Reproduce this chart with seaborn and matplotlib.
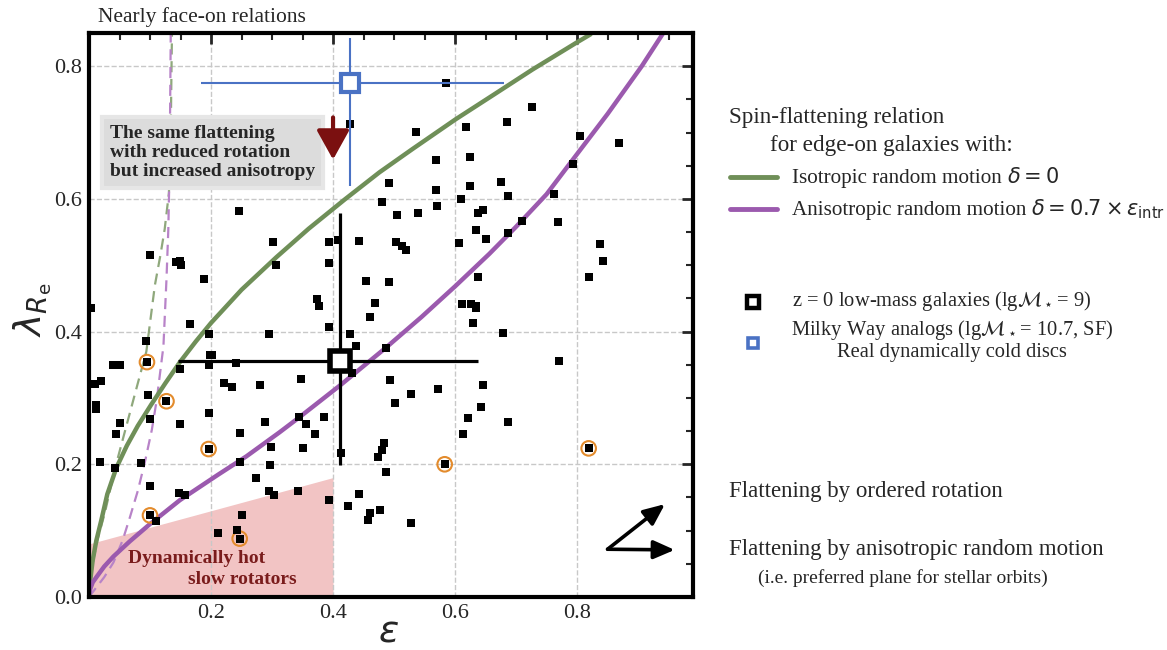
import matplotlib.pyplot as plt
import numpy as np
import pandas as pd
import seaborn as sns
from matplotlib.lines import Line2D

# z = 0 low-mass galaxies (ellipticity, lambda_Re)
eps = [0.585, 0.726, 0.685, 0.428, 0.618, 0.536, 0.805, 0.869, 0.569, 0.625,
       0.793, 0.491, 0.676, 0.624, 0.569, 0.762, 0.686, 0.609, 0.481, 0.570,
       0.246, 0.645, 0.637, 0.505, 0.539, 0.709, 0.768, 0.634, 0.686, 0.650,
       0.301, 0.394, 0.408, 0.442, 0.503, 0.513, 0.520, 0.607, 0.838, 0.100,
       0.842, 0.143, 0.149, 0.150, 0.307, 0.394, 0.189, 0.454, 0.491, 0.637,
       0.819, 0.373, 0.377, 0.468, 0.611, 0.626, 0.634, 0.635, 0.003, 0.461,
       0.630, 0.166, 0.393, 0.197, 0.295, 0.428, 0.679, 0.094, 0.438, 0.486,
       0.198, 0.201, 0.196, 0.241, 0.040, 0.051, 0.770, 0.149, 0.431, 0.222,
       0.234, 0.281, 0.347, 0.494, 0.010, 0.019, 0.528, 0.572, 0.097, 0.501,
       0.646, 0.642, 0.011, 0.012, 0.622, 0.686, 0.100, 0.197, 0.149, 0.288,
       0.344, 0.355, 0.386, 0.051, 0.613, 0.045, 0.247, 0.371, 0.299, 0.350,
       0.483, 0.481, 0.474, 0.413, 0.247, 0.296, 0.018, 0.043, 0.085, 0.487,
       0.274, 0.100, 0.147, 0.158, 0.295, 0.303, 0.343, 0.442, 0.394, 0.425,
       0.477, 0.461, 0.457, 0.251, 0.110, 0.528, 0.243, 0.212]
lam = [0.775, 0.739, 0.716, 0.713, 0.708, 0.701, 0.695, 0.684, 0.659, 0.663,
       0.652, 0.624, 0.626, 0.620, 0.614, 0.607, 0.604, 0.600, 0.595, 0.590,
       0.582, 0.583, 0.579, 0.575, 0.578, 0.566, 0.565, 0.553, 0.549, 0.540,
       0.535, 0.535, 0.538, 0.537, 0.535, 0.529, 0.523, 0.533, 0.532, 0.515,
       0.507, 0.505, 0.506, 0.501, 0.500, 0.504, 0.480, 0.476, 0.474, 0.482,
       0.483, 0.449, 0.438, 0.443, 0.441, 0.442, 0.439, 0.435, 0.435, 0.422,
       0.413, 0.411, 0.407, 0.396, 0.396, 0.397, 0.398, 0.386, 0.378, 0.376,
       0.364, 0.365, 0.350, 0.353, 0.350, 0.350, 0.356, 0.343, 0.338, 0.323,
       0.316, 0.320, 0.328, 0.327, 0.321, 0.326, 0.306, 0.313, 0.304, 0.293,
       0.319, 0.287, 0.290, 0.283, 0.270, 0.264, 0.269, 0.277, 0.260, 0.264,
       0.272, 0.261, 0.272, 0.262, 0.246, 0.245, 0.247, 0.245, 0.226, 0.225,
       0.232, 0.221, 0.211, 0.217, 0.204, 0.199, 0.204, 0.194, 0.202, 0.188,
       0.180, 0.168, 0.157, 0.153, 0.160, 0.154, 0.160, 0.155, 0.146, 0.137,
       0.131, 0.127, 0.116, 0.123, 0.115, 0.111, 0.101, 0.096]

# highlighted galaxies (orange rings)
hl_eps = [0.095, 0.127, 0.196, 0.100, 0.247, 0.583, 0.819]
hl_lam = [0.354, 0.295, 0.223, 0.123, 0.088, 0.200, 0.224]

# sample mean with spread
mean_eps, mean_lam = 0.412, 0.355
mean_eps_err = [0.266, 0.225]
mean_lam_err = [0.156, 0.224]

# Milky Way analogs
mw_eps, mw_lam = 0.427, 0.775
mw_eps_err = [0.244, 0.253]
mw_lam_err = [0.156, 0.068]

# edge-on spin-flattening relations
iso_eps = [0.000, 0.002, 0.006, 0.012, 0.020, 0.030, 0.045, 0.062, 0.080, 0.102,
           0.125, 0.149, 0.175, 0.200, 0.250, 0.307, 0.360, 0.419, 0.476, 0.530,
           0.601, 0.665, 0.727, 0.800, 0.822]
iso_lam = [0.000, 0.025, 0.055, 0.085, 0.115, 0.155, 0.195, 0.228, 0.258, 0.290,
           0.322, 0.354, 0.385, 0.413, 0.463, 0.512, 0.555, 0.599, 0.640, 0.675,
           0.720, 0.758, 0.795, 0.836, 0.848]
ani_eps = [0.000, 0.002, 0.006, 0.013, 0.025, 0.040, 0.067, 0.100, 0.149, 0.211,
           0.258, 0.312, 0.345, 0.413, 0.487, 0.545, 0.601, 0.656, 0.700, 0.750,
           0.797, 0.850, 0.906, 0.942]
ani_lam = [0.000, 0.012, 0.022, 0.031, 0.046, 0.061, 0.084, 0.110, 0.146, 0.184,
           0.212, 0.248, 0.271, 0.320, 0.376, 0.422, 0.469, 0.517, 0.558, 0.607,
           0.664, 0.728, 0.800, 0.851]

# nearly face-on relations
iso_fo_eps = [0.000, 0.003, 0.008, 0.015, 0.026, 0.043, 0.059, 0.075, 0.094, 0.108,
              0.117, 0.124, 0.131, 0.134, 0.135, 0.136]
iso_fo_lam = [0.000, 0.030, 0.060, 0.090, 0.127, 0.195, 0.250, 0.305, 0.370, 0.470,
              0.515, 0.554, 0.609, 0.700, 0.780, 0.850]
ani_fo_eps = [0.000, 0.010, 0.025, 0.040, 0.055, 0.067, 0.080, 0.092, 0.103, 0.111,
              0.122, 0.127, 0.130, 0.132, 0.133, 0.134]
ani_fo_lam = [0.000, 0.012, 0.030, 0.052, 0.085, 0.120, 0.160, 0.205, 0.252, 0.297,
              0.378, 0.479, 0.554, 0.645, 0.740, 0.850]

# slow rotator region
slow_eps = [0.0, 0.4]
slow_top = [0.08, 0.18]

green = '#6f8f58'
purple = '#9b5aae'
W, H = 1167, 650

sns.set_theme(style='white')
plt.rcParams['font.family'] = ['Liberation Serif', 'DejaVu Serif']
plt.rcParams['mathtext.fontset'] = 'dejavusans'

fig = plt.figure(figsize=(W / 100, H / 100), dpi=100)
ax = fig.add_axes([89 / W, 1 - 597 / H, (693 - 89) / W, (597 - 33) / H])

ax.fill_between(slow_eps, 0, slow_top, color='#f2c4c4', lw=0, zorder=0)

sns.lineplot(x=iso_fo_eps, y=iso_fo_lam, sort=False, estimator=None, ax=ax,
             color='#8fa87c', lw=1.6, linestyle=(0, (5, 3)), zorder=2)
sns.lineplot(x=ani_fo_eps, y=ani_fo_lam, sort=False, estimator=None, ax=ax,
             color='#b883c8', lw=1.6, linestyle=(0, (5, 3)), zorder=2)
sns.lineplot(x=iso_eps, y=iso_lam, sort=False, estimator=None, ax=ax,
             color=green, lw=3.2, zorder=2)
sns.lineplot(x=ani_eps, y=ani_lam, sort=False, estimator=None, ax=ax,
             color=purple, lw=3.2, zorder=2)

sns.scatterplot(x=eps + hl_eps, y=lam + hl_lam, marker='s', color='black',
                s=28, linewidth=0, ax=ax, zorder=4)
ax.scatter(hl_eps, hl_lam, s=110, facecolors='none', edgecolors='#e38b2c',
           linewidths=1.5, zorder=3)

ax.errorbar(mean_eps, mean_lam, xerr=[[mean_eps_err[0]], [mean_eps_err[1]]],
            yerr=[[mean_lam_err[0]], [mean_lam_err[1]]], fmt='s', ms=14.5,
            mfc='white', mec='black', mew=4, ecolor='black', elinewidth=2.3,
            capsize=0, zorder=5)
ax.errorbar(mw_eps, mw_lam, xerr=[[mw_eps_err[0]], [mw_eps_err[1]]],
            yerr=[[mw_lam_err[0]], [mw_lam_err[1]]], fmt='s', ms=12.5,
            mfc='white', mec='#4a72c4', mew=3, ecolor='#4a72c4', elinewidth=1.5,
            capsize=0, zorder=5)

# annotations inside the axes
ax.text(0.034, 0.670, 'The same flattening\nwith reduced rotation\nbut increased anisotropy',
        fontsize=14, fontweight='bold', ha='left', va='center', linespacing=1.15,
        bbox=dict(boxstyle='square,pad=0.4', fc='#dcdcdc', ec='#e6e6e6', lw=3), zorder=6)
ax.annotate('', xy=(0.4, 0.655), xytext=(0.4, 0.727),
            arrowprops=dict(arrowstyle='-|>,head_length=0.9,head_width=0.5',
                            color='#7b1010', lw=3, mutation_scale=20), zorder=7)
ax.text(0.064, 0.058, 'Dynamically hot', fontsize=14, fontweight='bold',
        color='#7a1c1c', ha='left', va='center')
ax.text(0.162, 0.026, 'slow rotators', fontsize=14, fontweight='bold',
        color='#7a1c1c', ha='left', va='center')
for tip in [(0.944, 0.140), (0.960, 0.071)]:
    ax.annotate('', xy=tip, xytext=(0.850, 0.072),
                arrowprops=dict(arrowstyle='-|>,head_length=0.8,head_width=0.35',
                                color='black', lw=2.6, mutation_scale=16,
                                shrinkA=0, shrinkB=0), zorder=7)

ax.set_xlim(0, 0.99)
ax.set_ylim(0, 0.85)
ax.set_xticks([0.0, 0.2, 0.4, 0.6, 0.8])
ax.set_xticklabels(['', '0.2', '0.4', '0.6', '0.8'])
ax.set_yticks([0.0, 0.2, 0.4, 0.6, 0.8])
ax.set_yticklabels(['0.0', '0.2', '0.4', '0.6', '0.8'])
ax.set_xticks(np.arange(0, 1.0, 0.05), minor=True)
ax.set_yticks(np.arange(0, 0.86, 0.05), minor=True)
ax.tick_params(which='both', direction='in', top=True, right=True, labelsize=16, pad=5)
ax.tick_params(which='major', length=8, width=2)
ax.tick_params(which='minor', length=5, width=1.5)
for s in ax.spines.values():
    s.set_linewidth(3)
    s.set_color('black')
ax.grid(True, which='major', ls='--', color='#c8c8c8', lw=1)
ax.set_axisbelow(True)
ax.set_xlabel(r'$\varepsilon$', fontsize=27)
ax.set_ylabel(r'$\lambda_{R_{\rm e}}$', fontsize=27)
ax.xaxis.set_label_coords(0.495, -0.063)
ax.xaxis.label.set_va('center')
ax.yaxis.set_label_coords(-0.093, 0.509)
ax.yaxis.label.set_va('center')

# text and keys outside the axes
def fx(px):
    return px / W

def fy(py):
    return 1 - py / H

renderer = fig.canvas.get_renderer()

def label_with_math(px, py, words, math, size, msize):
    t = fig.text(fx(px), fy(py), words, fontsize=size, va='baseline')
    bb = t.get_window_extent(renderer)
    fig.text((bb.x1 + 5) / W, fy(py), math, fontsize=msize, va='baseline')

fig.text(fx(98), fy(17), 'Nearly face-on relations', fontsize=15.5, va='center')
fig.text(fx(729), fy(117), 'Spin-flattening relation', fontsize=16.7, va='center')
fig.text(fx(770), fy(145), 'for edge-on galaxies with:', fontsize=16.7, va='center')
fig.add_artist(Line2D([fx(730), fx(777)], [fy(177), fy(177)], color=green, lw=3.5))
fig.add_artist(Line2D([fx(730), fx(777)], [fy(209), fy(209)], color=purple, lw=3.5))
label_with_math(792, 183, 'Isotropic random motion', r'$\delta = 0$', 15.2, 15)
label_with_math(792, 215, 'Anisotropic random motion',
                r'$\delta = 0.7 \times \varepsilon_{\rm intr}$', 15.2, 15)
fig.add_artist(Line2D([fx(753)], [fy(302)], marker='s', ms=8, mfc='white', mec='black', mew=3.2))
fig.add_artist(Line2D([fx(753)], [fy(343)], marker='s', ms=7.5, mfc='white', mec='#4a72c4', mew=2.6))
fig.text(fx(792), fy(301), r'z = 0 low-mass galaxies (lg$\mathcal{M}_\star$= 9)', fontsize=14.8, va='center')
fig.text(fx(952), fy(330), r'Milky Way analogs (lg$\mathcal{M}_\star$= 10.7, SF)', fontsize=14.8,
         va='center', ha='center')
fig.text(fx(952), fy(352), 'Real dynamically cold discs', fontsize=14.8, va='center', ha='center')
fig.text(fx(729), fy(492), 'Flattening by ordered rotation', fontsize=16.5, va='center')
fig.text(fx(729), fy(550), 'Flattening by anisotropic random motion', fontsize=16.5, va='center')
fig.text(fx(758), fy(578), '(i.e. preferred plane for stellar orbits)', fontsize=14, va='center')

fig.savefig('out.png', dpi=100)
